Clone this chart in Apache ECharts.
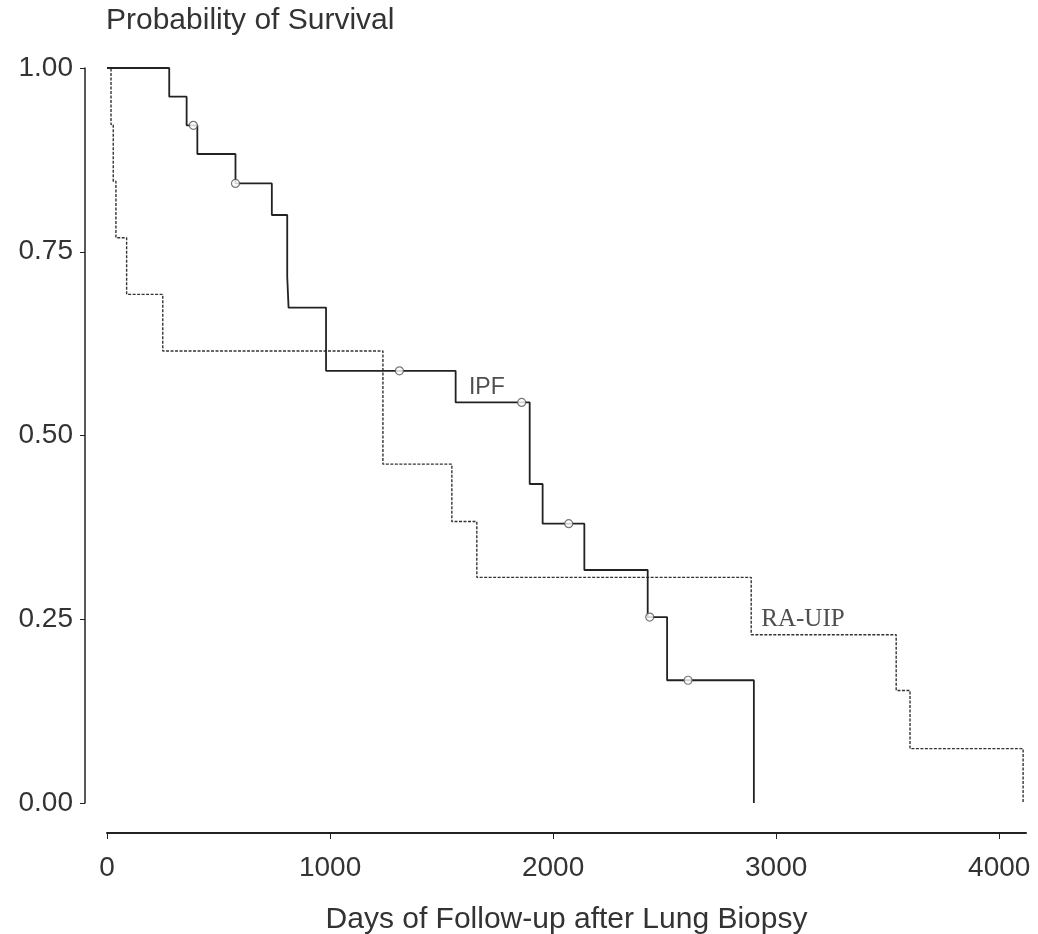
<!DOCTYPE html>
<html>
<head>
<meta charset="utf-8">
<script src="https://cdn.jsdelivr.net/npm/echarts@6/dist/echarts.min.js"></script>
<style>
html, body { margin: 0; padding: 0; background: #fff; }
#survival-graph { width: 1038px; height: 934px; }
</style>
</head>
<body>
<div id="survival-graph"></div>
<script>
/* Kaplan-Meier curves. */
var ipf_days = [0, 279, 357, 405, 576, 739, 808, 814, 982, 1563, 1895, 1953, 2140, 2424, 2511, 2900];
var ipf_surv = [1.00, 0.961, 0.922, 0.883, 0.843, 0.800, 0.716, 0.674, 0.588, 0.545, 0.434, 0.380, 0.317, 0.253, 0.167, 0.00];
var ipf_censor_days = [387, 576, 1311, 1859, 2070, 2433, 2605];
var ipf_censor_surv = [0.922, 0.843, 0.588, 0.545, 0.380, 0.253, 0.167];
var ra_days = [0, 18, 28, 40, 88, 250, 1237, 1546, 1658, 2888, 3538, 3600, 4107];
var ra_surv = [1.00, 0.923, 0.846, 0.769, 0.692, 0.615, 0.461, 0.383, 0.307, 0.229, 0.153, 0.074, 0.00];
var x_ticks = [0, 1000, 2000, 3000, 4000];
var curve_names = ['IPF', 'RA-UIP'];
var curve_label_days = [1703, 3120];
var curve_label_surv = [0.565, 0.250];

var text_color = '#333';
var sans = '"Liberation Sans", Arial, sans-serif';
var serif = '"Liberation Serif", "Times New Roman", serif';

function zip(xs, ys)
{
    var out = [];
    for (var i = 0; i < xs.length; i++) {
        out.push([xs[i], ys[i]]);
    }
    return out;
}

var echarts_survival_graph = echarts.init(document.getElementById('survival-graph'));

var echarts_options = {
    animation: false,
    title: {
        text: 'Probability of Survival',
        left: 106,
        top: 6,
        padding: 0,
        textStyle: {
            fontFamily: sans,
            fontSize: 30,
            fontWeight: 'normal',
            color: text_color
        }
    },
    grid: {
        left: 107,
        right: 12,
        top: 68,
        bottom: 131,
        containLabel: false,
        outerBoundsMode: 'none'
    },
    xAxis: {
        type: 'value',
        min: 0,
        max: 4120,
        interval: 1000,
        offset: 30,
        name: 'Days of Follow-up after Lung Biopsy',
        nameLocation: 'middle',
        nameGap: 72,
        nameTextStyle: {
            fontFamily: sans,
            fontSize: 30,
            color: text_color
        },
        axisLine: { onZero: false, lineStyle: { color: '#222', width: 2 } },
        axisTick: {
            customValues: x_ticks,
            length: 6,
            lineStyle: { color: '#222', width: 1 }
        },
        axisLabel: {
            customValues: x_ticks,
            margin: 21,
            fontFamily: sans,
            fontSize: 28,
            color: text_color,
            formatter: function (v) { return String(v); }
        },
        splitLine: { show: false }
    },
    yAxis: {
        type: 'value',
        min: 0,
        max: 1,
        interval: 0.25,
        offset: 22,
        axisLine: { show: true, onZero: false, lineStyle: { color: '#222', width: 1.5 } },
        axisTick: { show: true, length: 5, lineStyle: { color: '#222', width: 1 } },
        axisLabel: {
            margin: 12,
            fontFamily: sans,
            fontSize: 28,
            color: text_color,
            formatter: function (v) { return v.toFixed(2); }
        },
        splitLine: { show: false }
    },
    series: [
        {
            name: 'RA-UIP',
            type: 'line',
            step: 'end',
            symbol: 'none',
            lineStyle: { color: '#333', width: 1.4, type: [3, 1.5] },
            data: zip(ra_days, ra_surv)
        },
        {
            name: 'IPF',
            type: 'line',
            step: 'end',
            symbol: 'none',
            lineStyle: { color: '#222', width: 1.8 },
            data: zip(ipf_days, ipf_surv)
        },
        {
            name: 'IPF censored',
            type: 'scatter',
            symbol: 'circle',
            symbolSize: 8,
            z: 3,
            itemStyle: { color: '#fff', borderColor: '#555', borderWidth: 1.2 },
            data: zip(ipf_censor_days, ipf_censor_surv)
        },
        {
            name: 'labels',
            type: 'scatter',
            symbolSize: 0,
            silent: true,
            itemStyle: { color: 'transparent' },
            data: [
                {
                    value: [curve_label_days[0], curve_label_surv[0]],
                    label: { show: true, position: 'inside', formatter: curve_names[0],
                        fontFamily: sans, fontSize: 23, color: '#222', textBorderWidth: 0 }
                },
                {
                    value: [curve_label_days[1], curve_label_surv[1]],
                    label: { show: true, position: 'inside', formatter: curve_names[1],
                        fontFamily: serif, fontSize: 25, color: '#222', textBorderWidth: 0 }
                }
            ]
        }
    ]
};

echarts_survival_graph.setOption(echarts_options);
</script>
</body>
</html>
